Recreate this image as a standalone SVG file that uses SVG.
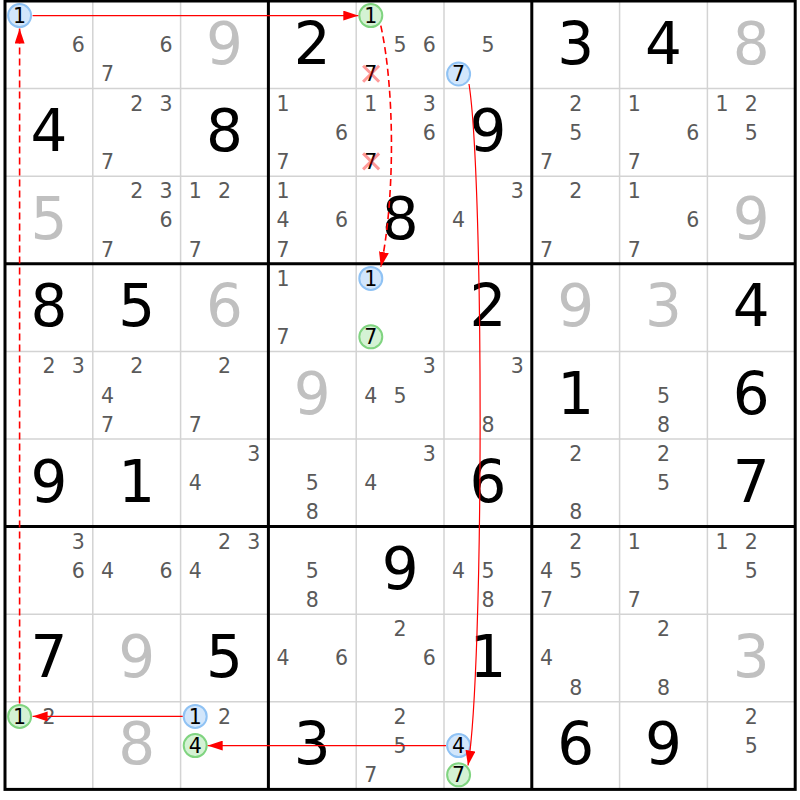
<svg xmlns="http://www.w3.org/2000/svg" width="800" height="800" viewBox="0 0 800 800">
<style>
.thin{stroke:#d3d3d3;stroke-width:1.5}
.thick{stroke:#000;stroke-width:3}
text{font-family:"DejaVu Sans","Liberation Sans",sans-serif;text-anchor:middle}
.v{font-size:58px;fill:#000}
.vg{font-size:58px;fill:#c0c0c0}
.c{font-size:20.5px;fill:#5a5a5a}
.k{font-size:20.5px;fill:#000}
.cb{fill:#d2e6fb;stroke:#8fc2f4;stroke-width:2}
.cg{fill:#d4f2d4;stroke:#80d480;stroke-width:2}
.ln{stroke:#f00;stroke-width:1.2;fill:none}
.dash{stroke-dasharray:7 4;stroke-width:1.6}
.x{stroke:#f00;stroke-opacity:.4;stroke-width:3}
</style>
<defs>
<marker id="ah" markerUnits="userSpaceOnUse" markerWidth="15" markerHeight="10" refX="15" refY="5" orient="auto">
<path d="M0,0 L15,5 L0,10 z" fill="#f00"/>
</marker>
</defs>
<rect width="800" height="800" fill="#fff"/>
<g id="grid">
<path class="thin" d="M92.8,1V789.4M180.6,1V789.4M356.2,1V789.4M444,1V789.4M619.6,1V789.4M707.4,1V789.4M5,88.6H795.2M5,176.2H795.2M5,351.4H795.2M5,439H795.2M5,614.2H795.2M5,701.8H795.2"/>
<path class="thick" d="M268.4,1V789.4M531.8,1V789.4M5,263.8H795.2M5,526.6H795.2"/>
<rect class="thick" x="5" y="1" width="790.2" height="788.4" fill="none"/>
</g>
<g id="cells">
<!-- row 1 -->
<g id="r1c1" transform="translate(48.9,44.8)"><circle class="cb" cx="-29.3" cy="-29.2" r="11.5"/><text class="k" x="-29.3" y="-21.9">1</text><text class="c" x="29.3" y="7.3">6</text></g>
<g id="r1c2" transform="translate(136.7,44.8)"><text class="c" x="29.3" y="7.3">6</text><text class="c" x="-29.3" y="36.5">7</text></g>
<g id="r1c3" transform="translate(224.5,44.8)"><text class="vg" y="18.8">9</text></g>
<g id="r1c4" transform="translate(312.3,44.8)"><text class="v" y="18.8">2</text></g>
<g id="r1c5" transform="translate(400.1,44.8)"><circle class="cg" cx="-29.3" cy="-29.2" r="11.5"/><text class="k" x="-29.3" y="-21.9">1</text><text class="c" x="0" y="7.3">5</text><text class="c" x="29.3" y="7.3">6</text><text class="k" x="-29.3" y="36.5">7</text><path class="x" d="M-37,21L-21,37M-21,21L-37,37"/></g>
<g id="r1c6" transform="translate(487.9,44.8)"><text class="c" x="0" y="7.3">5</text><circle class="cb" cx="-29.3" cy="29.2" r="11.5"/><text class="k" x="-29.3" y="36.5">7</text></g>
<g id="r1c7" transform="translate(575.7,44.8)"><text class="v" y="18.8">3</text></g>
<g id="r1c8" transform="translate(663.5,44.8)"><text class="v" y="18.8">4</text></g>
<g id="r1c9" transform="translate(751.3,44.8)"><text class="vg" y="18.8">8</text></g>
<!-- row 2 -->
<g id="r2c1" transform="translate(48.9,132.4)"><text class="v" y="18.8">4</text></g>
<g id="r2c2" transform="translate(136.7,132.4)"><text class="c" x="0" y="-21.9">2</text><text class="c" x="29.3" y="-21.9">3</text><text class="c" x="-29.3" y="36.5">7</text></g>
<g id="r2c3" transform="translate(224.5,132.4)"><text class="v" y="18.8">8</text></g>
<g id="r2c4" transform="translate(312.3,132.4)"><text class="c" x="-29.3" y="-21.9">1</text><text class="c" x="29.3" y="7.3">6</text><text class="c" x="-29.3" y="36.5">7</text></g>
<g id="r2c5" transform="translate(400.1,132.4)"><text class="c" x="-29.3" y="-21.9">1</text><text class="c" x="29.3" y="-21.9">3</text><text class="c" x="29.3" y="7.3">6</text><text class="k" x="-29.3" y="36.5">7</text><path class="x" d="M-37,21L-21,37M-21,21L-37,37"/></g>
<g id="r2c6" transform="translate(487.9,132.4)"><text class="v" y="18.8">9</text></g>
<g id="r2c7" transform="translate(575.7,132.4)"><text class="c" x="0" y="-21.9">2</text><text class="c" x="0" y="7.3">5</text><text class="c" x="-29.3" y="36.5">7</text></g>
<g id="r2c8" transform="translate(663.5,132.4)"><text class="c" x="-29.3" y="-21.9">1</text><text class="c" x="29.3" y="7.3">6</text><text class="c" x="-29.3" y="36.5">7</text></g>
<g id="r2c9" transform="translate(751.3,132.4)"><text class="c" x="-29.3" y="-21.9">1</text><text class="c" x="0" y="-21.9">2</text><text class="c" x="0" y="7.3">5</text></g>
<!-- row 3 -->
<g id="r3c1" transform="translate(48.9,220)"><text class="vg" y="18.8">5</text></g>
<g id="r3c2" transform="translate(136.7,220)"><text class="c" x="0" y="-21.9">2</text><text class="c" x="29.3" y="-21.9">3</text><text class="c" x="29.3" y="7.3">6</text><text class="c" x="-29.3" y="36.5">7</text></g>
<g id="r3c3" transform="translate(224.5,220)"><text class="c" x="-29.3" y="-21.9">1</text><text class="c" x="0" y="-21.9">2</text><text class="c" x="-29.3" y="36.5">7</text></g>
<g id="r3c4" transform="translate(312.3,220)"><text class="c" x="-29.3" y="-21.9">1</text><text class="c" x="-29.3" y="7.3">4</text><text class="c" x="29.3" y="7.3">6</text><text class="c" x="-29.3" y="36.5">7</text></g>
<g id="r3c5" transform="translate(400.1,220)"><text class="v" y="18.8">8</text></g>
<g id="r3c6" transform="translate(487.9,220)"><text class="c" x="29.3" y="-21.9">3</text><text class="c" x="-29.3" y="7.3">4</text></g>
<g id="r3c7" transform="translate(575.7,220)"><text class="c" x="0" y="-21.9">2</text><text class="c" x="-29.3" y="36.5">7</text></g>
<g id="r3c8" transform="translate(663.5,220)"><text class="c" x="-29.3" y="-21.9">1</text><text class="c" x="29.3" y="7.3">6</text><text class="c" x="-29.3" y="36.5">7</text></g>
<g id="r3c9" transform="translate(751.3,220)"><text class="vg" y="18.8">9</text></g>
<!-- row 4 -->
<g id="r4c1" transform="translate(48.9,307.6)"><text class="v" y="18.8">8</text></g>
<g id="r4c2" transform="translate(136.7,307.6)"><text class="v" y="18.8">5</text></g>
<g id="r4c3" transform="translate(224.5,307.6)"><text class="vg" y="18.8">6</text></g>
<g id="r4c4" transform="translate(312.3,307.6)"><text class="c" x="-29.3" y="-21.9">1</text><text class="c" x="-29.3" y="36.5">7</text></g>
<g id="r4c5" transform="translate(400.1,307.6)"><circle class="cb" cx="-29.3" cy="-29.2" r="11.5"/><text class="k" x="-29.3" y="-21.9">1</text><circle class="cg" cx="-29.3" cy="29.2" r="11.5"/><text class="k" x="-29.3" y="36.5">7</text></g>
<g id="r4c6" transform="translate(487.9,307.6)"><text class="v" y="18.8">2</text></g>
<g id="r4c7" transform="translate(575.7,307.6)"><text class="vg" y="18.8">9</text></g>
<g id="r4c8" transform="translate(663.5,307.6)"><text class="vg" y="18.8">3</text></g>
<g id="r4c9" transform="translate(751.3,307.6)"><text class="v" y="18.8">4</text></g>
<!-- row 5 -->
<g id="r5c1" transform="translate(48.9,395.2)"><text class="c" x="0" y="-21.9">2</text><text class="c" x="29.3" y="-21.9">3</text></g>
<g id="r5c2" transform="translate(136.7,395.2)"><text class="c" x="0" y="-21.9">2</text><text class="c" x="-29.3" y="7.3">4</text><text class="c" x="-29.3" y="36.5">7</text></g>
<g id="r5c3" transform="translate(224.5,395.2)"><text class="c" x="0" y="-21.9">2</text><text class="c" x="-29.3" y="36.5">7</text></g>
<g id="r5c4" transform="translate(312.3,395.2)"><text class="vg" y="18.8">9</text></g>
<g id="r5c5" transform="translate(400.1,395.2)"><text class="c" x="29.3" y="-21.9">3</text><text class="c" x="-29.3" y="7.3">4</text><text class="c" x="0" y="7.3">5</text></g>
<g id="r5c6" transform="translate(487.9,395.2)"><text class="c" x="29.3" y="-21.9">3</text><text class="c" x="0" y="36.5">8</text></g>
<g id="r5c7" transform="translate(575.7,395.2)"><text class="v" y="18.8">1</text></g>
<g id="r5c8" transform="translate(663.5,395.2)"><text class="c" x="0" y="7.3">5</text><text class="c" x="0" y="36.5">8</text></g>
<g id="r5c9" transform="translate(751.3,395.2)"><text class="v" y="18.8">6</text></g>
<!-- row 6 -->
<g id="r6c1" transform="translate(48.9,482.8)"><text class="v" y="18.8">9</text></g>
<g id="r6c2" transform="translate(136.7,482.8)"><text class="v" y="18.8">1</text></g>
<g id="r6c3" transform="translate(224.5,482.8)"><text class="c" x="29.3" y="-21.9">3</text><text class="c" x="-29.3" y="7.3">4</text></g>
<g id="r6c4" transform="translate(312.3,482.8)"><text class="c" x="0" y="7.3">5</text><text class="c" x="0" y="36.5">8</text></g>
<g id="r6c5" transform="translate(400.1,482.8)"><text class="c" x="29.3" y="-21.9">3</text><text class="c" x="-29.3" y="7.3">4</text></g>
<g id="r6c6" transform="translate(487.9,482.8)"><text class="v" y="18.8">6</text></g>
<g id="r6c7" transform="translate(575.7,482.8)"><text class="c" x="0" y="-21.9">2</text><text class="c" x="0" y="36.5">8</text></g>
<g id="r6c8" transform="translate(663.5,482.8)"><text class="c" x="0" y="-21.9">2</text><text class="c" x="0" y="7.3">5</text></g>
<g id="r6c9" transform="translate(751.3,482.8)"><text class="v" y="18.8">7</text></g>
<!-- row 7 -->
<g id="r7c1" transform="translate(48.9,570.4)"><text class="c" x="29.3" y="-21.9">3</text><text class="c" x="29.3" y="7.3">6</text></g>
<g id="r7c2" transform="translate(136.7,570.4)"><text class="c" x="-29.3" y="7.3">4</text><text class="c" x="29.3" y="7.3">6</text></g>
<g id="r7c3" transform="translate(224.5,570.4)"><text class="c" x="0" y="-21.9">2</text><text class="c" x="29.3" y="-21.9">3</text><text class="c" x="-29.3" y="7.3">4</text></g>
<g id="r7c4" transform="translate(312.3,570.4)"><text class="c" x="0" y="7.3">5</text><text class="c" x="0" y="36.5">8</text></g>
<g id="r7c5" transform="translate(400.1,570.4)"><text class="v" y="18.8">9</text></g>
<g id="r7c6" transform="translate(487.9,570.4)"><text class="c" x="-29.3" y="7.3">4</text><text class="c" x="0" y="7.3">5</text><text class="c" x="0" y="36.5">8</text></g>
<g id="r7c7" transform="translate(575.7,570.4)"><text class="c" x="0" y="-21.9">2</text><text class="c" x="-29.3" y="7.3">4</text><text class="c" x="0" y="7.3">5</text><text class="c" x="-29.3" y="36.5">7</text></g>
<g id="r7c8" transform="translate(663.5,570.4)"><text class="c" x="-29.3" y="-21.9">1</text><text class="c" x="-29.3" y="36.5">7</text></g>
<g id="r7c9" transform="translate(751.3,570.4)"><text class="c" x="-29.3" y="-21.9">1</text><text class="c" x="0" y="-21.9">2</text><text class="c" x="0" y="7.3">5</text></g>
<!-- row 8 -->
<g id="r8c1" transform="translate(48.9,658)"><text class="v" y="18.8">7</text></g>
<g id="r8c2" transform="translate(136.7,658)"><text class="vg" y="18.8">9</text></g>
<g id="r8c3" transform="translate(224.5,658)"><text class="v" y="18.8">5</text></g>
<g id="r8c4" transform="translate(312.3,658)"><text class="c" x="-29.3" y="7.3">4</text><text class="c" x="29.3" y="7.3">6</text></g>
<g id="r8c5" transform="translate(400.1,658)"><text class="c" x="0" y="-21.9">2</text><text class="c" x="29.3" y="7.3">6</text></g>
<g id="r8c6" transform="translate(487.9,658)"><text class="v" y="18.8">1</text></g>
<g id="r8c7" transform="translate(575.7,658)"><text class="c" x="-29.3" y="7.3">4</text><text class="c" x="0" y="36.5">8</text></g>
<g id="r8c8" transform="translate(663.5,658)"><text class="c" x="0" y="-21.9">2</text><text class="c" x="0" y="36.5">8</text></g>
<g id="r8c9" transform="translate(751.3,658)"><text class="vg" y="18.8">3</text></g>
<!-- row 9 -->
<g id="r9c1" transform="translate(48.9,745.6)"><circle class="cg" cx="-29.3" cy="-29.2" r="11.5"/><text class="k" x="-29.3" y="-21.9">1</text><text class="c" x="0" y="-21.9">2</text></g>
<g id="r9c2" transform="translate(136.7,745.6)"><text class="vg" y="18.8">8</text></g>
<g id="r9c3" transform="translate(224.5,745.6)"><circle class="cb" cx="-29.3" cy="-29.2" r="11.5"/><text class="k" x="-29.3" y="-21.9">1</text><text class="c" x="0" y="-21.9">2</text><circle class="cg" cx="-29.3" cy="0" r="11.5"/><text class="k" x="-29.3" y="7.3">4</text></g>
<g id="r9c4" transform="translate(312.3,745.6)"><text class="v" y="18.8">3</text></g>
<g id="r9c5" transform="translate(400.1,745.6)"><text class="c" x="0" y="-21.9">2</text><text class="c" x="0" y="7.3">5</text><text class="c" x="-29.3" y="36.5">7</text></g>
<g id="r9c6" transform="translate(487.9,745.6)"><circle class="cb" cx="-29.3" cy="0" r="11.5"/><text class="k" x="-29.3" y="7.3">4</text><circle class="cg" cx="-29.3" cy="29.2" r="11.5"/><text class="k" x="-29.3" y="36.5">7</text></g>
<g id="r9c7" transform="translate(575.7,745.6)"><text class="v" y="18.8">6</text></g>
<g id="r9c8" transform="translate(663.5,745.6)"><text class="v" y="18.8">9</text></g>
<g id="r9c9" transform="translate(751.3,745.6)"><text class="c" x="0" y="-21.9">2</text><text class="c" x="0" y="7.3">5</text></g>
</g>
<g id="connectors">
<path class="ln" d="M32.6,15.6H358.3" marker-end="url(#ah)"/>
<path class="ln dash" d="M380.8,25.6C395,90 395,200 380.8,266.9" marker-end="url(#ah)"/>
<path class="ln" d="M469,84C484,180 484,670 468,765.5" marker-end="url(#ah)"/>
<path class="ln" d="M446,745.6H207.7" marker-end="url(#ah)"/>
<path class="ln" d="M182.7,716.4H32.6" marker-end="url(#ah)"/>
<path class="ln dash" d="M19.6,703.5V28.6" marker-end="url(#ah)"/>
</g>
</svg>
